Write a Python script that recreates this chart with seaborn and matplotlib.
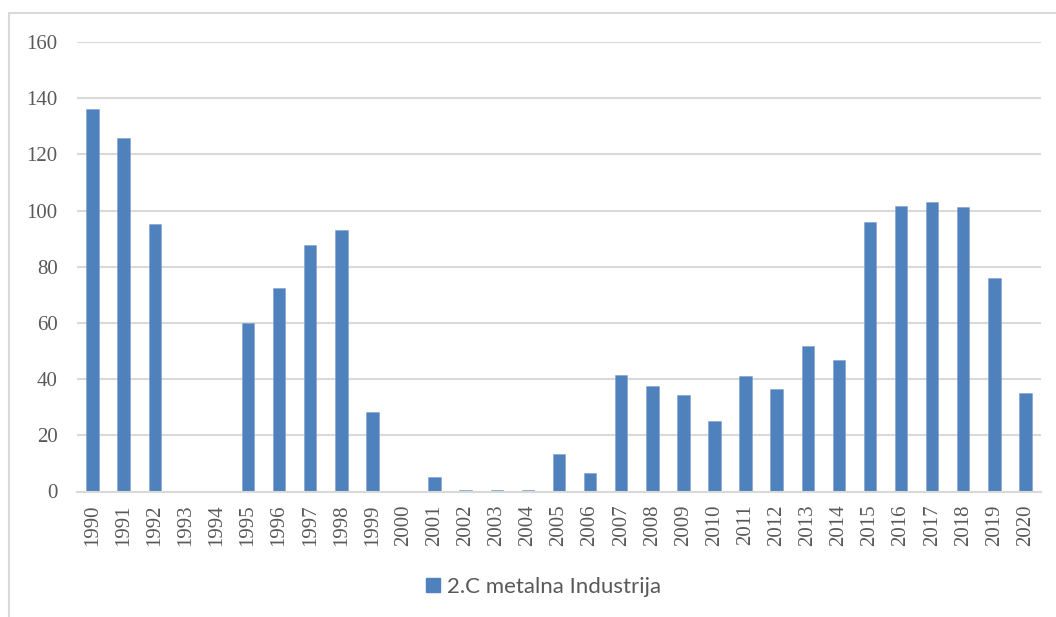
import matplotlib
matplotlib.use("Agg")
import matplotlib.pyplot as plt
import seaborn as sns
import pandas as pd
from matplotlib.patches import Rectangle
from matplotlib.lines import Line2D

years = [str(y) for y in range(1990, 2021)]
values = [136, 126, 95.2, 0, 0, 60.0, 72.4, 87.7, 93.1, 28.3,
          0, 5.2, 0.5, 0.5, 0.7, 13.3, 6.6, 41.5, 37.5, 34.3,
          25.1, 41.1, 36.5, 51.8, 46.8, 95.9, 101.5, 102.9, 101.2, 76.0,
          35.1]
series_name = "2.C metalna Industrija"
yticks = [0, 20, 40, 60, 80, 100, 120, 140, 160]

bar_color = "#4F81BD"
grid_color = "#D9D9D9"
text_color = "#595959"

sns.set_theme(style="white")
plt.rcParams["font.family"] = ["Liberation Serif", "DejaVu Serif"]

df = pd.DataFrame({"year": years, "value": values})

fig = plt.figure(figsize=(10.56, 6.17), dpi=100)
ax = fig.add_axes([77 / 1056, 1 - 491.5 / 617, 964 / 1056, 449.5 / 617])

sns.barplot(data=df, x="year", y="value", color=bar_color, width=0.4,
            saturation=1, ax=ax, edgecolor="#7FA2CF", linewidth=0.4)

ax.set_ylim(0, 160)
ax.set_xlim(-0.5, len(years) - 0.5)
ax.set_yticks(yticks)
ax.set_yticklabels([str(t) for t in yticks])
ax.yaxis.grid(True, color=grid_color, linewidth=1.5)
ax.set_axisbelow(True)
for side in ["top", "right", "left"]:
    ax.spines[side].set_visible(False)
ax.spines["bottom"].set_color(grid_color)
ax.spines["bottom"].set_linewidth(1.5)
ax.set_xlabel("")
ax.set_ylabel("")
ax.tick_params(axis="x", rotation=90, labelsize=15, colors=text_color,
               length=0, pad=9)
ax.tick_params(axis="y", labelsize=15, colors=text_color, length=0, pad=14)

# outer chart frame
fig.patches.append(Rectangle((9 / 1056, -0.1), 1.2, 1.1 - 13 / 617,
                             transform=fig.transFigure, fill=False,
                             edgecolor=grid_color, linewidth=1.5))

handle = Line2D([], [], linestyle="none", marker="s", markersize=9.5,
                markerfacecolor=bar_color, markeredgecolor=bar_color)
fig.legend([handle], [series_name], loc="center",
           bbox_to_anchor=(543 / 1056, 1 - 587 / 617), frameon=False,
           prop={"family": ["Lato", "DejaVu Sans"], "size": 16},
           labelcolor=text_color, handlelength=0.7, handletextpad=0.3)

fig.savefig("out.png", dpi=100)
